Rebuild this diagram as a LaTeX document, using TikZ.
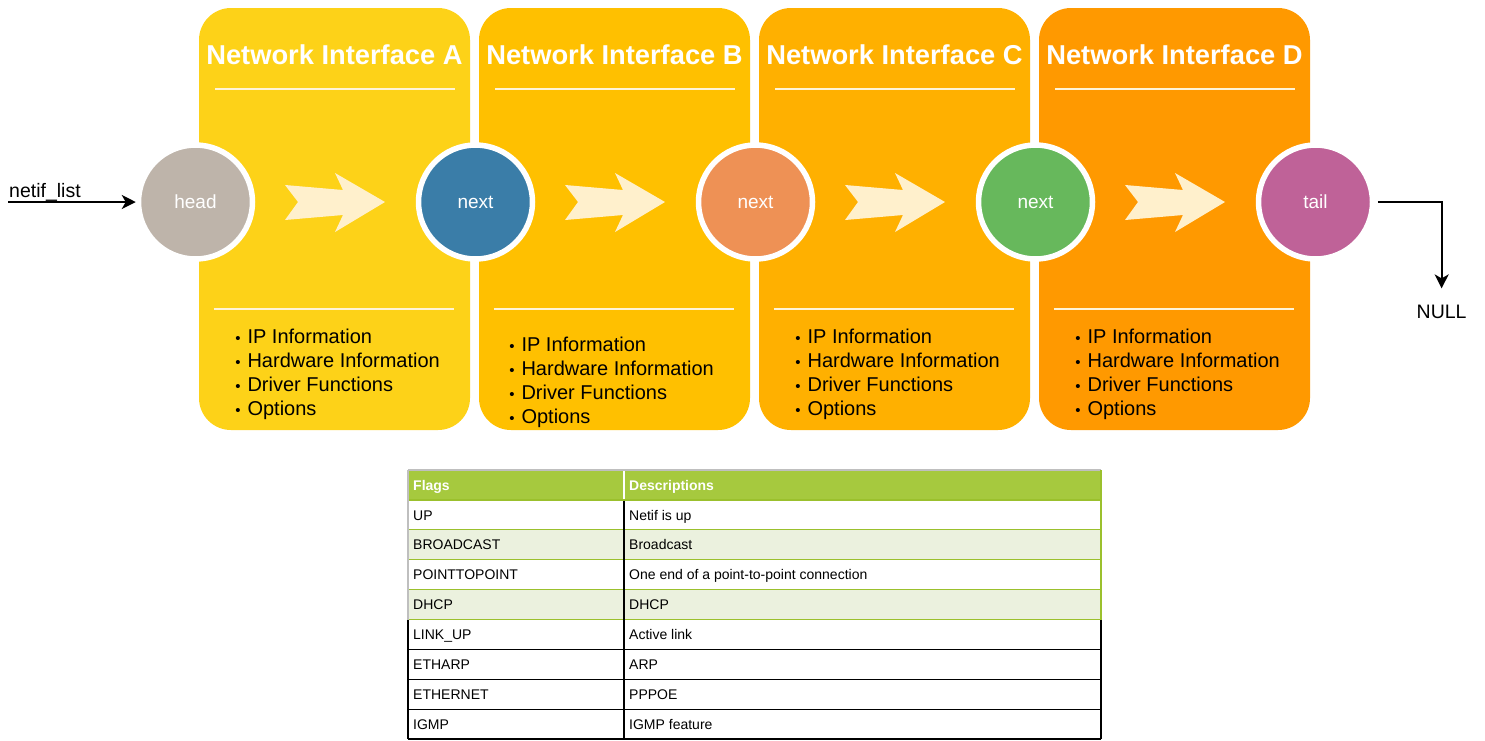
\documentclass[tikz,border=0pt]{standalone}
\usepackage{fontspec}
\setmainfont{Liberation Sans}
\usetikzlibrary{arrows.meta,calc}
\definecolor{panelA}{RGB}{253,210,24}
\definecolor{panelB}{RGB}{255,192,0}
\definecolor{panelC}{RGB}{255,176,0}
\definecolor{panelD}{RGB}{255,153,0}
\definecolor{chevc}{RGB}{255,240,204}
\definecolor{sepc}{RGB}{255,244,214}
\definecolor{headc}{RGB}{190,180,170}
\definecolor{nextB}{RGB}{58,125,168}
\definecolor{nextC}{RGB}{238,145,85}
\definecolor{nextD}{RGB}{103,184,92}
\definecolor{tailc}{RGB}{191,98,152}
\definecolor{hdrc}{RGB}{166,201,62}
\definecolor{lightg}{RGB}{235,241,222}
\definecolor{glinec}{RGB}{155,192,45}
\newcommand\lbul{{\fontsize{15}{15}\selectfont •}\hspace{7pt}}
\begin{document}
\begin{tikzpicture}[x=1pt,y=-1pt,
  panel/.style={rounded corners=32pt},
  ptitle/.style={text=white,font=\fontsize{27.3}{32}\selectfont\bfseries,anchor=base,inner sep=0pt},
  sepline/.style={draw=sepc,line width=2pt},
  ring/.style={circle,draw=white,line width=5.5pt,minimum size=114pt,inner sep=0pt,text=white,font=\fontsize{19}{22}\selectfont},
  chev/.style={fill=chevc},
  item/.style={anchor=base west,inner sep=0pt,font=\fontsize{20}{24}\selectfont},
  conn/.style={line width=2pt,-{Stealth[length=14pt,width=14pt,inset=4pt]}},
  lbl/.style={anchor=base west,inner sep=0pt,font=\fontsize{19.5}{22}\selectfont},
  cell/.style={anchor=base west,inner sep=0pt,font=\fontsize{14}{16}\selectfont},
  hcell/.style={anchor=base west,inner sep=0pt,font=\fontsize{14}{16}\selectfont\bfseries,text=white},
  gline/.style={draw=glinec,line width=1.2pt},
  kline/.style={draw=black,line width=1.1pt}
]
\useasboundingbox (0,0) rectangle (1485,740);
% panels
\fill[panel,panelA] (199,8) rectangle (470,430);
\fill[panel,panelB] (479,8) rectangle (750,430);
\fill[panel,panelC] (759,8) rectangle (1030,430);
\fill[panel,panelD] (1039,8) rectangle (1310,430);
% titles
\node[ptitle] (tA) at (334.5,64) {Network Interface A};
\node[ptitle] (tB) at (614.5,64) {Network Interface B};
\node[ptitle] (tC) at (894.5,64) {Network Interface C};
\node[ptitle] (tD) at (1174.5,64) {Network Interface D};
% separator lines and chevrons
\foreach \k in {0,1,2,3}{
  \draw[sepline] (215+280*\k,89) -- (455+280*\k,89);
  \draw[sepline] (214+280*\k,309) -- (454+280*\k,309);
  \begin{scope}[xshift=280*\k]
    \fill[chev] (285,185) -- (343,190) -- (335,173) -- (385,202) -- (335,232) -- (343,215) -- (285,220) -- (298,202) -- cycle;
  \end{scope}
}
% circles
\node[ring,fill=headc] (head) at (195.5,202) {head};
\node[ring,fill=nextB] (nB) at (475.5,202) {next};
\node[ring,fill=nextC] (nC) at (755.5,202) {next};
\node[ring,fill=nextD] (nD) at (1035.5,202) {next};
\node[ring,fill=tailc] (tail) at (1315.5,202) {tail};
% lists
\foreach \px/\py/\n in {235.1/343/A,509.1/351/B,795.1/343/C,1075.1/343/D}{
  \node[item] (\n1) at (\px,\py) {\lbul IP Information};
  \node[item] (\n2) at (\px,\py+24) {\lbul Hardware Information};
  \node[item] (\n3) at (\px,\py+48) {\lbul Driver Functions};
  \node[item] (\n4) at (\px,\py+72) {\lbul Options};
}
% netif_list and NULL
\node[lbl] (nl) at (9,197) {netif\_list};
\coordinate (nstart) at (8,202);
\draw[conn] (nstart) -- (head);
\node[lbl] (null) at (1416.5,318) {NULL};
\draw[conn,shorten <=2.5pt,shorten >=16pt] (tail.east) -| (null.north);
% table
\fill[hdrc] (408,470) rectangle (1101,500);
\fill[lightg] (408,529.875) rectangle (1101,559.75);
\fill[lightg] (408,589.625) rectangle (1101,619.5);
\foreach \yy in {500,529.875,559.75,589.625,619.5}{
  \draw[gline] (408,\yy) -- (1101,\yy);
}
\draw[draw=gray!50,line width=1.2pt] (408,470) -- (1101,470);
\draw[draw=gray!50,line width=1.2pt] (408,470) -- (408,619.5);
\draw[gline] (1101,470) -- (1101,619.5);
\draw[draw=white,line width=1.2pt] (624,471) -- (624,499);
\draw[kline] (624,500.6) -- (624,739);
\draw[kline] (408,620.1) -- (408,739);
\draw[kline] (1101,620.1) -- (1101,739);
\foreach \yy in {649.375,679.25,709.125,739}{
  \draw[kline] (408,\yy) -- (1101,\yy);
}
\node[hcell] (hf) at (413,490) {Flags};
\node[hcell] (hd) at (629,490) {Descriptions};
\foreach \f/\d [count=\i] in {UP/Netif is up,BROADCAST/Broadcast,POINTTOPOINT/One end of a point-to-point connection,DHCP/DHCP,LINK\_UP/Active link,ETHARP/ARP,ETHERNET/PPPOE,IGMP/IGMP feature}{
  \pgfmathsetmacro\yb{500+29.875*(\i-1)+20}
  \node[cell] (f\i) at (413,\yb) {\f};
  \node[cell] (d\i) at (629,\yb) {\d};
}
\end{tikzpicture}
\end{document}
